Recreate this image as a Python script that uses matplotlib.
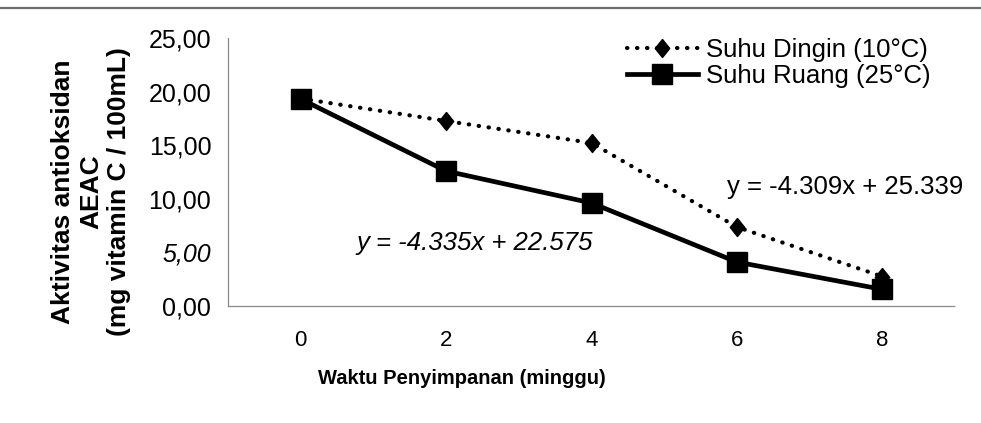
import matplotlib
matplotlib.use("Agg")
import matplotlib.pyplot as plt
from matplotlib.lines import Line2D

plt.rcParams['font.family'] = ['Liberation Sans', 'DejaVu Sans']

weeks = [0, 2, 4, 6, 8]
dingin = [19.35, 17.26, 15.21, 7.37, 2.75]
ruang = [19.31, 12.59, 9.61, 4.10, 1.55]
ytick_vals = [0, 5, 10, 15, 20, 25]
ytick_labels = ["0,00", "5,00", "10,00", "15,00", "20,00", "25,00"]
label_dingin = "Suhu Dingin (10°C)"
label_ruang = "Suhu Ruang (25°C)"
eq_dingin = "y = -4.309x + 25.339"
eq_ruang = "y = -4.335x + 22.575"
xlabel = "Waktu Penyimpanan (minggu)"
ylabel = "Aktivitas antioksidan\nAEAC\n(mg vitamin C / 100mL)"

W, H = 981, 423
fig = plt.figure(figsize=(W / 100, H / 100), dpi=100)
fig.patch.set_facecolor('white')

l, r, t, b = 228, 955, 38, 306
ax = fig.add_axes([l / W, 1 - b / H, (r - l) / W, (b - t) / H])

diamond = [(0, 1), (0.8, 0), (0, -1), (-0.8, 0), (0, 1)]
ax.plot(weeks, dingin, color='black', linewidth=3.0, dashes=(0.1, 2.3),
        dash_capstyle='round', marker=diamond, markersize=13,
        label=label_dingin, zorder=3)
ax.plot(weeks, ruang, color='black', linewidth=3.4, marker='s',
        markersize=15, label=label_ruang, zorder=4)

ax.set_xlim(-1, 9)
ax.set_ylim(0, 25)
ax.set_xticks(weeks)
ax.set_xticklabels([str(w) for w in weeks], fontsize=16)
ax.set_yticks(ytick_vals)
ax.set_yticklabels(ytick_labels, fontsize=18)
for lab in ax.get_yticklabels():
    if lab.get_text() == "5,00":
        lab.set_style('italic')
ax.tick_params(axis='x', length=0, pad=17)
ax.tick_params(axis='y', length=0, pad=12)

for s in ['top', 'right']:
    ax.spines[s].set_visible(False)
for s in ['left', 'bottom']:
    ax.spines[s].set_linestyle((0, (1, 1)))
    ax.spines[s].set_color('#8a8a8a')
    ax.spines[s].set_linewidth(0.9)

fig.text(462 / W, 1 - 378 / H, xlabel, fontsize=14.5, fontweight='bold',
         ha='center', va='center')
fig.text(91 / W, 1 - 192 / H, ylabel, fontsize=19, fontweight='bold',
         rotation=90, ha='center', va='center', multialignment='center',
         linespacing=1.22)

fig.text(475 / W, 1 - 243 / H, eq_ruang, fontsize=18.5, style='italic',
         ha='center', va='center')
fig.text(845 / W, 1 - 187 / H, eq_dingin, fontsize=18.5,
         ha='center', va='center')

leg = fig.legend(loc='upper left', bbox_to_anchor=(627 / W, 1 - 38 / H),
                 frameon=False, fontsize=18.5, handlelength=2.76,
                 handletextpad=0.3, labelspacing=0.08, borderpad=0,
                 borderaxespad=0)

# scan border line at top
fig.add_artist(Line2D([0, 1], [1 - 8 / H, 1 - 8 / H], transform=fig.transFigure,
                      color='#6e6e6e', linewidth=1.6))

fig.savefig("out.png", dpi=100, facecolor='white')
